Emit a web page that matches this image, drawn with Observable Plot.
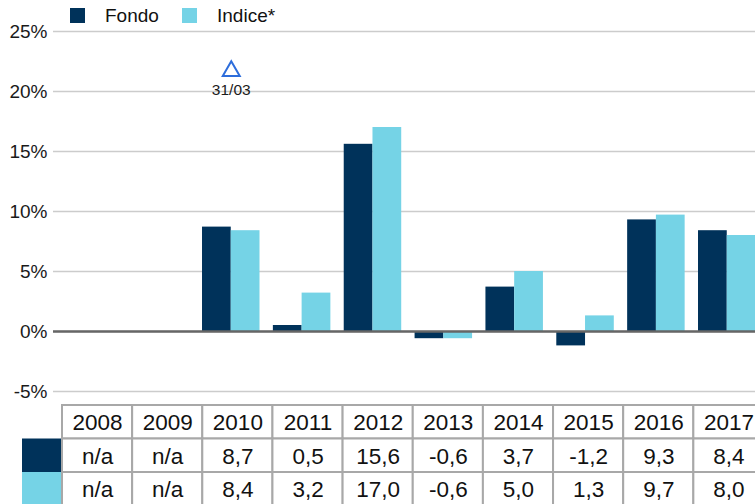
<!DOCTYPE html>
<html>
<head>
<meta charset="utf-8">
<script src="https://cdn.jsdelivr.net/npm/d3@7"></script>
<script src="https://cdn.jsdelivr.net/npm/@observablehq/plot@0.6"></script>
<style>
  html, body { margin: 0; padding: 0; background: #fff; overflow: hidden; }
  #wrap { position: relative; width: 755px; height: 504px; font-family: "Liberation Sans", Arial, sans-serif; }
  #legend { position: absolute; left: 0; top: 0; width: 400px; height: 30px; }
  .sw { position: absolute; top: 8px; width: 15px; height: 15px; }
  .lt { position: absolute; top: 5px; font-size: 19px; line-height: 22px; color: #111; }
  svg { display: block; }
</style>
</head>
<body>
<div id="wrap"></div>
<script>
// ---- data ----
const years = ["2008","2009","2010","2011","2012","2013","2014","2015","2016","2017"];
const fondo  = [null, null, 8.7, 0.5, 15.6, -0.6, 3.7, -1.2, 9.3, 8.4];
const indice = [null, null, 8.4, 3.2, 17.0, -0.6, 5.0, 1.3, 9.7, 8.0];
const seriesNames = ["Fondo", "Indice*"];
const seriesColors = ["#00325a", "#75d3e6"];
const yTicks = [-5, 0, 5, 10, 15, 20, 25];
const markerYear = "2010";
const markerLabel = "31/03";
const markerValue = 21.7;

const rows = years.map((y, i) => ({year: y, fondo: fondo[i], indice: indice[i]}));
const locale = d3.formatLocale({decimal: ",", thousands: ".", grouping: [3], currency: ["", "€"], minus: "-"});
const fmt = v => v == null ? "n/a" : locale.format(".1f")(v);

const wrap = document.getElementById("wrap");

// ---- main chart ----
const r0 = 60.3, r1 = 755.5, pIn = 0.1886;
const step = (r1 - r0) / (years.length - pIn);
const bw = step * (1 - pIn);

const chart = Plot.plot({
  width: 755,
  height: 404,
  marginTop: 31,
  marginBottom: 13,
  marginLeft: 53,
  marginRight: 0,
  style: {fontFamily: "'Liberation Sans', Arial, sans-serif", fontSize: "19px", color: "#1a1a1a", background: "white"},
  x: {type: "band", domain: years, range: [r0, r1], paddingInner: pIn, paddingOuter: 0, round: false, axis: null},
  y: {domain: [-5, 25], ticks: yTicks, tickFormat: d => d + "%", tickSize: 0, tickPadding: 6, label: null},
  marks: [
    Plot.ruleY(yTicks, {stroke: "#cccccc", strokeWidth: 1.6, strokeOpacity: 1}),
    Plot.barY(rows, {x: "year", y: "fondo", fill: seriesColors[0], insetLeft: 0, insetRight: bw / 2}),
    Plot.barY(rows, {x: "year", y: "indice", fill: seriesColors[1], insetLeft: bw / 2, insetRight: 0}),
    Plot.ruleY([0], {stroke: "#666666", strokeWidth: 2.4}),
    Plot.dot([{year: markerYear, v: markerValue}], {x: "year", y: "v", symbol: "triangle", r: 6.3, stroke: "#2d6ddb", strokeWidth: 2, fill: "white"}),
    Plot.text([{year: markerYear, v: markerValue}], {x: "year", y: "v", text: () => markerLabel, dy: 19, fontSize: 15.5, fill: "#1a1a1a"})
  ]
});
wrap.appendChild(chart);

// ---- data table ----
const cols = ["", ...years];
const rowKeys = ["header", "fondo", "indice"];
const headerCells = years.map(y => ({col: y, row: "header", t: y}));
const valueCells = [];
years.forEach((y, i) => {
  valueCells.push({col: y, row: "fondo", t: fmt(fondo[i])});
  valueCells.push({col: y, row: "indice", t: fmt(indice[i])});
});
const swatches = [{col: "", row: "fondo", c: seriesColors[0]}, {col: "", row: "indice", c: seriesColors[1]}];
const tStep = (763.5 - 62);
const table = Plot.plot({
  width: 755,
  height: 100,
  margin: 0,
  style: {fontFamily: "'Liberation Sans', Arial, sans-serif", background: "white"},
  x: {type: "band", domain: cols, range: [62 - tStep / 10, 763.5], padding: 0, round: false, axis: null},
  y: {type: "band", domain: rowKeys, range: [1, 101.5], padding: 0, round: false, axis: null},
  marks: [
    Plot.cell(swatches, {x: "col", y: "row", fill: "c", insetLeft: tStep / 10 - 40}),
    Plot.cell([...headerCells, ...valueCells], {x: "col", y: "row", fill: "white", stroke: "#a8a8a8", strokeWidth: 2}),
    Plot.text([...headerCells, ...valueCells], {x: "col", y: "row", text: "t", fontSize: 22.5, fill: "#111", dy: 1})
  ]
});
wrap.appendChild(table);

// ---- legend ----
const legend = document.createElement("div");
legend.id = "legend";
const legPos = [{sw: 70, tx: 105}, {sw: 182, tx: 217}];
seriesNames.forEach((n, i) => {
  const s = document.createElement("div");
  s.className = "sw";
  s.style.left = legPos[i].sw + "px";
  s.style.background = seriesColors[i];
  const t = document.createElement("div");
  t.className = "lt";
  t.style.left = legPos[i].tx + "px";
  t.textContent = n;
  legend.appendChild(s);
  legend.appendChild(t);
});
wrap.appendChild(legend);
</script>
</body>
</html>
